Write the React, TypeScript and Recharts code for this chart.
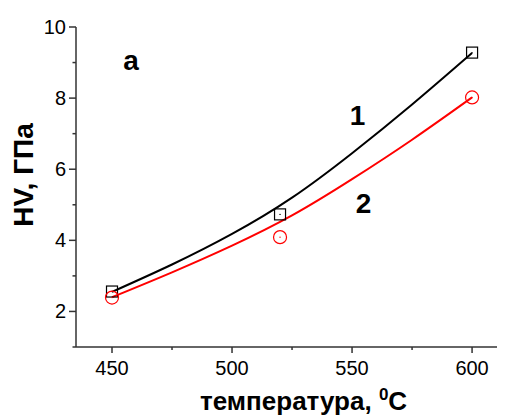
import React from 'react';
import { ComposedChart, Line, Scatter, XAxis, YAxis, ReferenceDot } from 'recharts';

// Fitted curves
const curveTemps = [450, 475, 500, 525, 550, 575, 600];
const curve1HV = [2.55, 3.32, 4.18, 5.2, 6.45, 7.82, 9.27];
const curve2HV = [2.4, 3.1, 3.85, 4.7, 5.72, 6.83, 8.02];

// Measured points
const measuredTemps = [450, 520, 600];
const measured1HV = [2.56, 4.73, 9.28];
const measured2HV = [2.39, 4.09, 8.02];

// Ticks
const xTicks = [450, 475, 500, 525, 550, 575, 600];
const xMajorTicks = [450, 500, 550, 600];
const yTicks = [1, 2, 3, 4, 5, 6, 7, 8, 9, 10];
const yMajorTicks = [2, 4, 6, 8, 10];

// Annotations
const annotations = [
  { x: 457.9, y: 8.8, text: 'a' },
  { x: 552.3, y: 7.24, text: '1' },
  { x: 554.8, y: 4.76, text: '2' },
];

const curve1 = curveTemps.map((t, i) => ({ x: t, y: curve1HV[i] }));
const curve2 = curveTemps.map((t, i) => ({ x: t, y: curve2HV[i] }));
const points1 = measuredTemps.map((t, i) => ({ x: t, y: measured1HV[i] }));
const points2 = measuredTemps.map((t, i) => ({ x: t, y: measured2HV[i] }));

const FONT = '"Liberation Sans", Arial, sans-serif';
const AXIS = '#333';

const XTick = (props: any) => {
  const { x, y, payload } = props;
  const major = xMajorTicks.includes(payload.value);
  return (
    <g>
      <line x1={x} x2={x} y1={y} y2={y + (major ? 6 : 3)} stroke={AXIS} strokeWidth={1.5} />
      {major && (
        <text x={x} y={y + 28} textAnchor="middle" fontFamily={FONT} fontSize={20} fill="#000">
          {payload.value}
        </text>
      )}
    </g>
  );
};

const YTick = (props: any) => {
  const { x, y, payload } = props;
  const major = yMajorTicks.includes(payload.value);
  return (
    <g>
      <line x1={x - (major ? 7 : 3.5)} x2={x} y1={y} y2={y} stroke={AXIS} strokeWidth={1.5} />
      {major && (
        <text x={x - 10} y={y + 7} textAnchor="end" fontFamily={FONT} fontSize={20} fill="#000">
          {payload.value}
        </text>
      )}
    </g>
  );
};

const SquareMarker = (props: any) => {
  const { cx, cy } = props;
  return (
    <g>
      <rect x={cx - 5.5} y={cy - 5.5} width={11} height={11} fill="none" stroke="#000" strokeWidth={1.2} />
      <circle cx={cx} cy={cy} r={0.7} fill="#000" />
    </g>
  );
};

const CircleMarker = (props: any) => {
  const { cx, cy } = props;
  return (
    <g>
      <circle cx={cx} cy={cy} r={6.5} fill="none" stroke="#ff0000" strokeWidth={1.2} />
      <circle cx={cx} cy={cy} r={0.7} fill="#ff0000" />
    </g>
  );
};

const XTitle = (props: any) => {
  const { viewBox } = props;
  return (
    <text x={192} y={viewBox.y + 63} fontFamily={FONT} fontSize={26} fontWeight="bold" fill="#000">
      температура,{' '}
      <tspan fontSize={17} dy={-10}>0</tspan>
      <tspan dy={10}>C</tspan>
    </text>
  );
};

const YTitle = (props: any) => {
  const { viewBox } = props;
  const cx = 25;
  const cy = viewBox.y + viewBox.height / 2 - 12;
  return (
    <text
      x={cx}
      y={cy}
      transform={`rotate(-90 ${cx} ${cy})`}
      textAnchor="middle"
      fontFamily={FONT}
      fontSize={28}
      fontWeight="bold"
      fill="#000"
    >
      HV, ГПа
    </text>
  );
};

const makeAnnotation = (text: string) => (props: any) => {
  const { viewBox } = props;
  const cx = viewBox.x + viewBox.width / 2;
  const cy = viewBox.y + viewBox.height / 2;
  return (
    <text x={cx} y={cy} textAnchor="middle" fontFamily={FONT} fontSize={28} fontWeight="bold" fill="#000">
      {text}
    </text>
  );
};

export default function App() {
  return (
    <ComposedChart width={497} height={408} margin={{ top: 19, right: 1, bottom: 0, left: 0 }}>
      <XAxis
        type="number"
        dataKey="x"
        domain={[435, 613.3]}
        ticks={xTicks}
        allowDataOverflow
        tickLine={false}
        tickSize={0}
        tickMargin={0}
        axisLine={{ stroke: AXIS, strokeWidth: 1.5 }}
        tick={<XTick />}
        height={69}
        interval={0}
        label={<XTitle />}
      />
      <YAxis
        type="number"
        dataKey="y"
        domain={[1, 10]}
        ticks={yTicks}
        allowDataOverflow
        tickLine={false}
        tickSize={0}
        tickMargin={0}
        axisLine={{ stroke: AXIS, strokeWidth: 1.5 }}
        tick={<YTick />}
        width={68}
        interval={0}
        label={<YTitle />}
      />
      <Line
        data={curve1}
        dataKey="y"
        type="natural"
        stroke="#000"
        strokeWidth={2}
        dot={false}
        activeDot={false}
        isAnimationActive={false}
      />
      <Line
        data={curve2}
        dataKey="y"
        type="natural"
        stroke="#ff0000"
        strokeWidth={2}
        dot={false}
        activeDot={false}
        isAnimationActive={false}
      />
      <Scatter data={points1} dataKey="y" shape={<SquareMarker />} isAnimationActive={false} />
      <Scatter data={points2} dataKey="y" shape={<CircleMarker />} isAnimationActive={false} />
      {annotations.map((a) => (
        <ReferenceDot
          key={a.text}
          x={a.x}
          y={a.y}
          r={0}
          fill="none"
          stroke="none"
          label={makeAnnotation(a.text)}
        />
      ))}
    </ComposedChart>
  );
}
